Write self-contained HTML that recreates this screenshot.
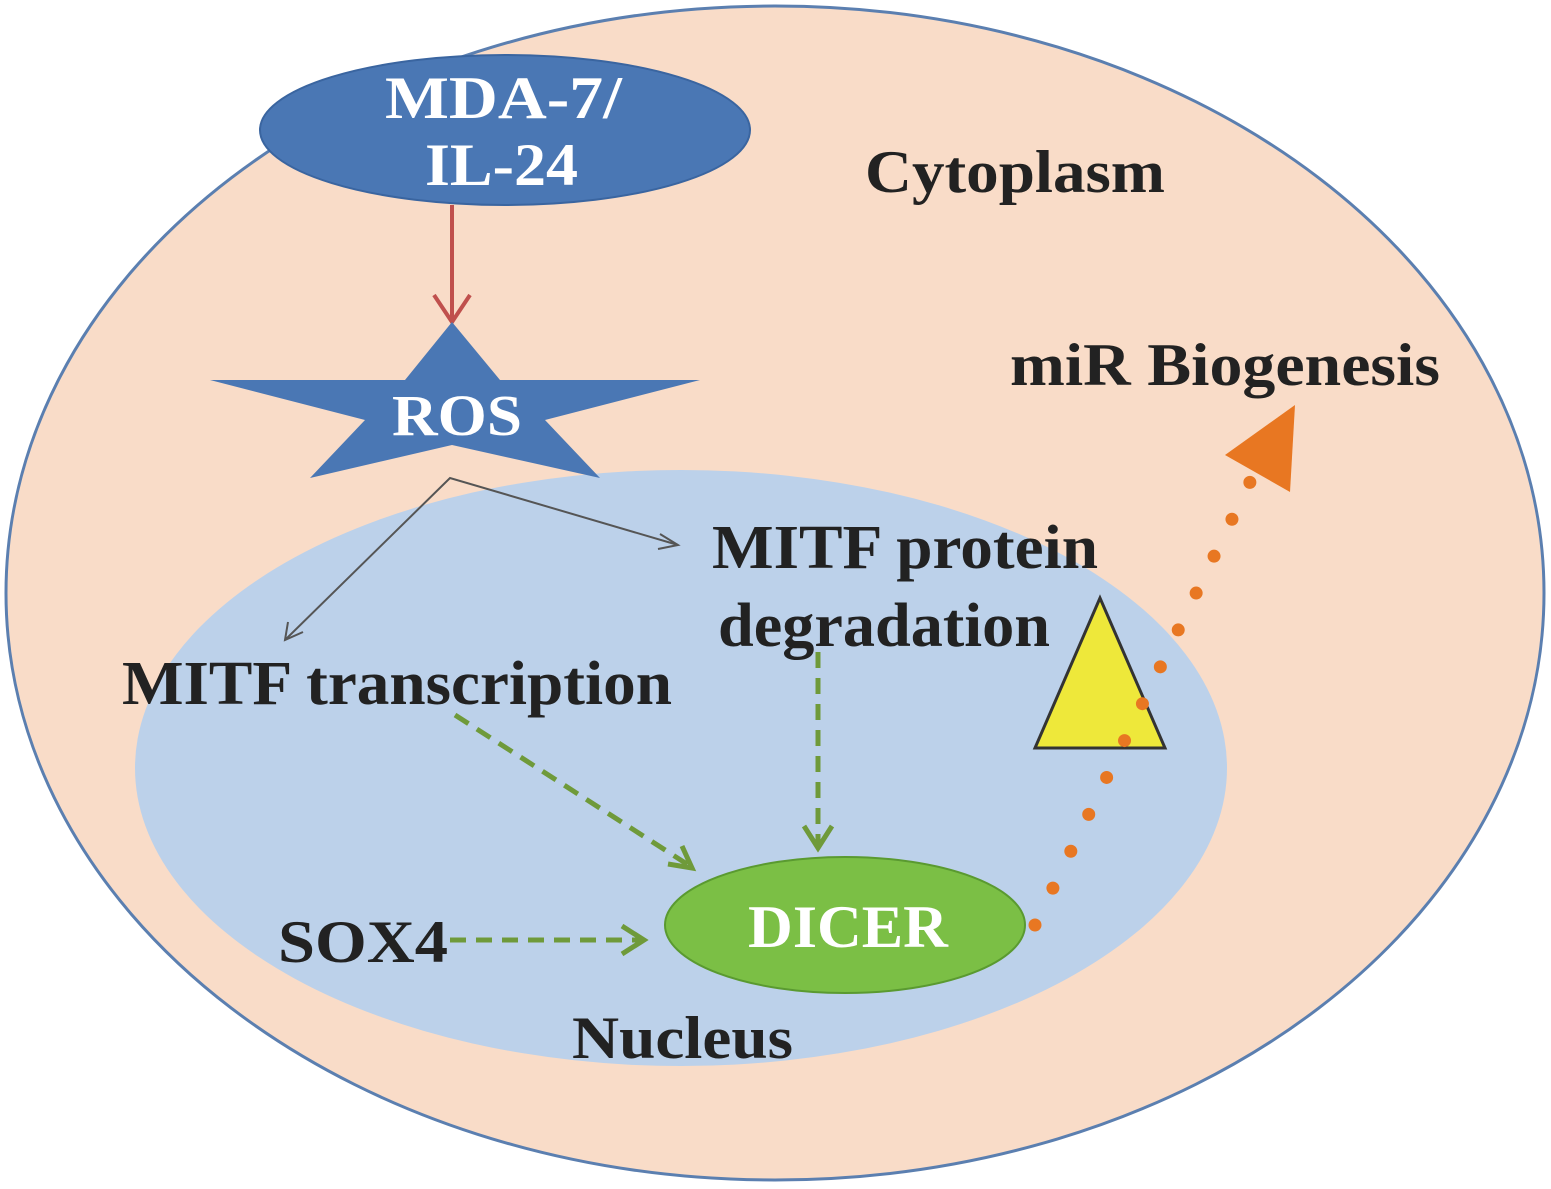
<!DOCTYPE html>
<html><head><meta charset="utf-8"><style>
html,body{margin:0;padding:0;background:#fff;}
svg{display:block;}
text{font-family:"Liberation Serif",serif;font-weight:bold;}
</style></head><body>
<svg width="1551" height="1189" viewBox="0 0 1551 1189" xmlns="http://www.w3.org/2000/svg">
<rect width="1551" height="1189" fill="#fff"/>
<ellipse cx="775" cy="593" rx="769" ry="587" fill="#f9dcc8" stroke="#5b7fb0" stroke-width="3"/>
<ellipse cx="681" cy="768" rx="546" ry="298" fill="#bcd1ea"/>
<ellipse cx="505" cy="130" rx="245" ry="75" fill="#4a77b4" stroke="#3a65a0" stroke-width="2"/>
<text x="385" y="118" font-size="60" fill="#fff" textLength="237" lengthAdjust="spacingAndGlyphs">MDA-7/</text>
<text x="425" y="185" font-size="60" fill="#fff" textLength="153" lengthAdjust="spacingAndGlyphs">IL-24</text>
<line x1="452" y1="205" x2="452" y2="320" stroke="#c0504d" stroke-width="4"/>
<polyline points="434,295 452,322 470,295" fill="none" stroke="#c0504d" stroke-width="4"/>
<polygon points="452,322 500,380 700,380 545,420 600,478 452,445 310,478 365,420 210,380 405,380" fill="#4a77b4"/>
<text x="392" y="435" font-size="58" fill="#fff" textLength="130" lengthAdjust="spacingAndGlyphs">ROS</text>
<polyline points="285,640 450,478 678,545" fill="none" stroke="#555" stroke-width="2"/>
<polyline points="288,622 285,640 303,632" fill="none" stroke="#555" stroke-width="2"/>
<polyline points="660,534 678,545 658,549" fill="none" stroke="#555" stroke-width="2"/>
<text x="865" y="192" font-size="60" fill="#222" textLength="300" lengthAdjust="spacingAndGlyphs">Cytoplasm</text>
<text x="1010" y="385" font-size="60" fill="#222" textLength="430" lengthAdjust="spacingAndGlyphs">miR Biogenesis</text>
<text x="712" y="568" font-size="62" fill="#222" textLength="386" lengthAdjust="spacingAndGlyphs">MITF protein</text>
<text x="718" y="646" font-size="62" fill="#222" textLength="332" lengthAdjust="spacingAndGlyphs">degradation</text>
<text x="122" y="704" font-size="62" fill="#222" textLength="550" lengthAdjust="spacingAndGlyphs">MITF transcription</text>
<text x="278" y="962" font-size="60" fill="#222" textLength="170" lengthAdjust="spacingAndGlyphs">SOX4</text>
<text x="572" y="1058" font-size="60" fill="#222" textLength="221" lengthAdjust="spacingAndGlyphs">Nucleus</text>
<g stroke="#6f9a3a" stroke-width="5" fill="none">
<line x1="455" y1="715" x2="690" y2="866" stroke-dasharray="16,10"/>
<polyline points="668,864 692,868 682,846"/>
<line x1="818" y1="652" x2="818" y2="845" stroke-dasharray="16,10"/>
<polyline points="804,826 818,848 832,826"/>
<line x1="450" y1="940" x2="642" y2="940" stroke-dasharray="16,10"/>
<polyline points="622,926 644,940 622,954"/>
</g>
<ellipse cx="845" cy="925" rx="180" ry="68" fill="#7bbf45" stroke="#5a9a30" stroke-width="2"/>
<text x="748" y="947" font-size="60" fill="#fff" textLength="200" lengthAdjust="spacingAndGlyphs">DICER</text>
<polygon points="1100,598 1035,748 1165,748" fill="#eee83a" stroke="#333" stroke-width="3"/>
<line x1="1035" y1="925" x2="1252" y2="478" stroke="#e87722" stroke-width="13" stroke-linecap="round" stroke-dasharray="0,41"/>
<polygon points="1225,455 1295,405 1290,492" fill="#e87722"/>
</svg>
</body></html>
